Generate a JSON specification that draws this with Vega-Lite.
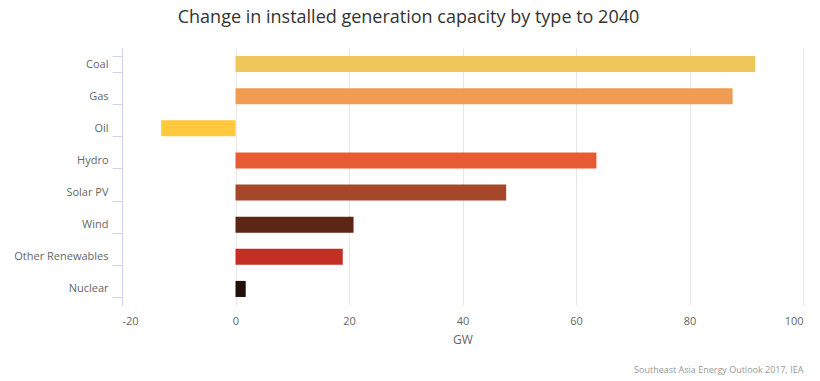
{
  "$schema": "https://vega.github.io/schema/vega-lite/v6.json",
  "width": 681,
  "height": 257,
  "autosize": {"type": "none"},
  "padding": {"left": 122, "top": 48, "right": 17, "bottom": 76},
  "background": "#ffffff",
  "config": {
    "font": "Open Sans",
    "view": {"stroke": null}
  },
  "title": {
    "text": "Change in installed generation capacity by type to 2040",
    "fontSize": 18,
    "fontWeight": "normal",
    "color": "#333333",
    "anchor": "middle",
    "dx": -54,
    "offset": 15
  },
  "data": {
    "values": [
      {"type": "Coal", "gw": 91.6},
      {"type": "Gas", "gw": 87.6},
      {"type": "Oil", "gw": -13.1},
      {"type": "Hydro", "gw": 63.6},
      {"type": "Solar PV", "gw": 47.7},
      {"type": "Wind", "gw": 20.8},
      {"type": "Other Renewables", "gw": 18.9},
      {"type": "Nuclear", "gw": 1.8}
    ]
  },
  "layer": [
    {
      "mark": {"type": "bar"},
      "encoding": {
        "y": {
          "field": "type",
          "type": "nominal",
          "sort": null,
          "scale": {"paddingInner": 0.5, "paddingOuter": 0.25},
          "axis": {
            "title": null,
            "domainColor": "#ccd6eb",
            "tickColor": "#ccd6eb",
            "tickSize": 10,
            "tickBand": "extent",
            "labelFontSize": 11,
            "labelColor": "#666666",
            "labelPadding": 4,
            "grid": false
          }
        },
        "x": {
          "field": "gw",
          "type": "quantitative",
          "scale": {"domain": [-20, 100], "nice": false},
          "axis": {
            "title": "GW",
            "titleFontSize": 12,
            "titleFontWeight": "normal",
            "titleColor": "#666666",
            "titlePadding": 8,
            "values": [-20, 0, 20, 40, 60, 80, 100],
            "labelExpr": "'' + datum.value",
            "domain": false,
            "ticks": false,
            "labelPadding": 10,
            "labelFontSize": 11,
            "labelColor": "#666666",
            "gridColor": "#e6e6e6",
            "grid": true
          }
        },
        "color": {
          "field": "type",
          "type": "nominal",
          "legend": null,
          "scale": {
            "domain": ["Coal", "Gas", "Oil", "Hydro", "Solar PV", "Wind", "Other Renewables", "Nuclear"],
            "range": ["#EDC75A", "#F09C52", "#FFC83D", "#E85C35", "#A6472A", "#5C2516", "#C42E24", "#230F0A"]
          }
        }
      }
    },
    {
      "mark": {"type": "bar", "opacity": 0},
      "encoding": {
        "y": {"field": "type", "type": "nominal", "sort": null},
        "x": {
          "field": "gw",
          "type": "quantitative",
          "scale": {"domain": [-20, 100], "nice": false},
          "axis": {
            "orient": "bottom",
            "offset": 60,
            "title": "Southeast Asia Energy Outlook 2017, IEA",
            "titleFontSize": 9,
            "titleFontWeight": "normal",
            "titleColor": "#999999",
            "titleAnchor": "end",
            "titlePadding": 0,
            "labels": false,
            "ticks": false,
            "domain": false,
            "grid": false
          }
        }
      }
    }
  ],
  "resolve": {"scale": {"x": "independent"}, "axis": {"x": "independent"}}
}
